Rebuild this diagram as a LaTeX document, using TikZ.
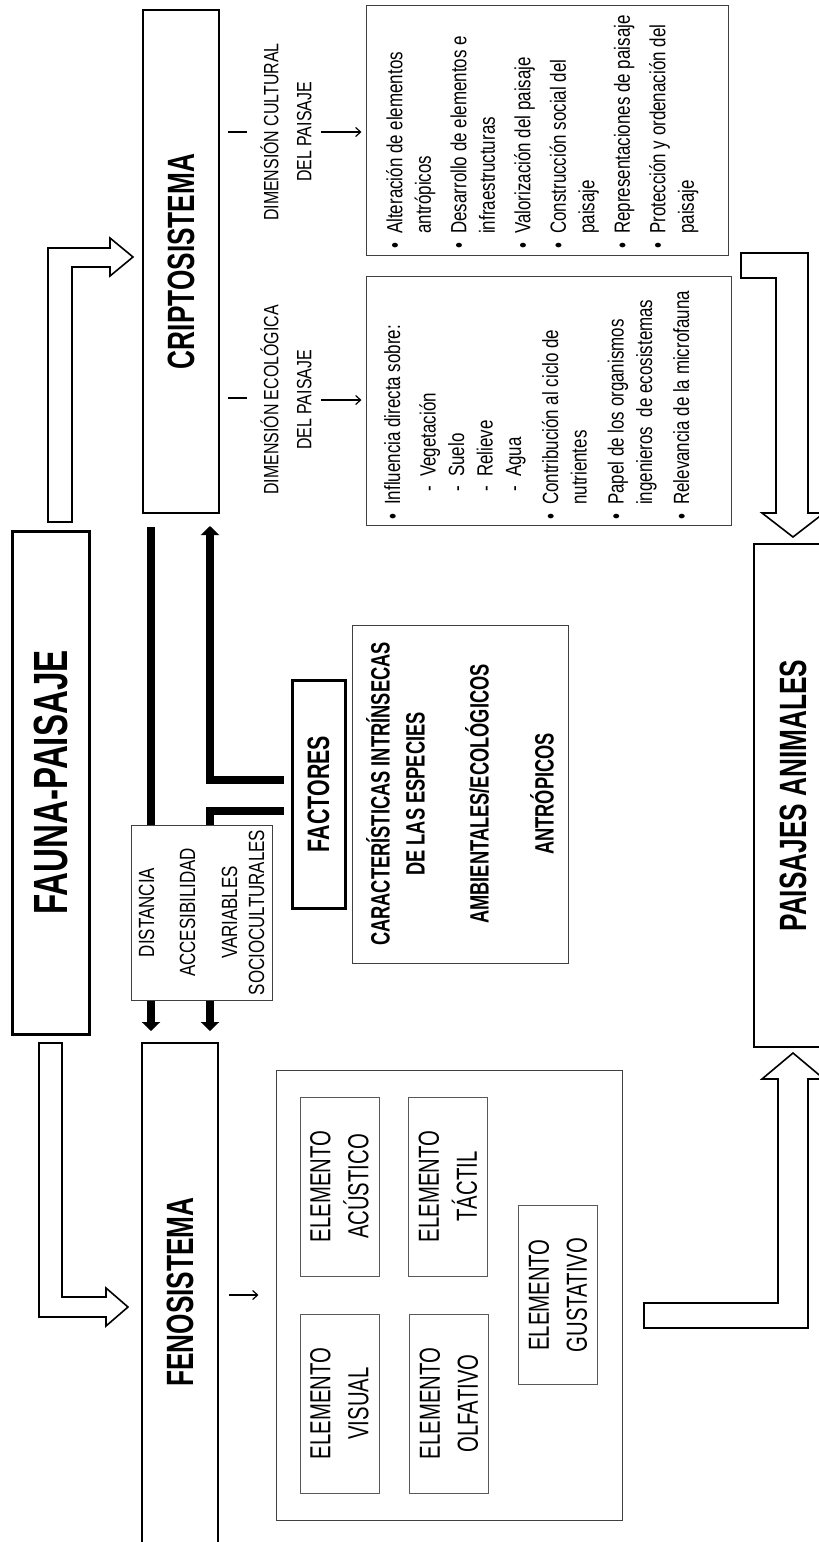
\documentclass[tikz,border=0pt]{standalone}
\usepackage{fontspec}
\setmainfont{Liberation Sans}
\newfontfamily\narrowfont{Liberation Sans}[FakeStretch=0.77]
\newfontfamily\elemfont{Liberation Sans}[FakeStretch=0.70]
\newfontfamily\titlefont{Liberation Sans}[FakeStretch=0.69]
\usetikzlibrary{arrows.meta,positioning}

\begin{document}
\begin{tikzpicture}[x=1pt,y=-1pt,
    every node/.style={rotate=90, inner sep=0pt},
    bigbox/.style={draw, line width=2pt, font=\titlefont\bfseries\fontsize{38}{44}\selectfont},
    thinbox/.style={draw=black!75, line width=1pt},
    listtext/.style={align=left, font=\narrowfont\fontsize{22}{28.5}\selectfont},
    elembox/.style={draw=black!65, line width=1pt, minimum width=179pt, minimum height=79pt,
      align=center, font=\elemfont\fontsize{29}{38}\selectfont},
    thickline/.style={line width=7.5pt, -{Triangle[length=9pt,width=18pt]}},
    thinarrow/.style={line width=1.2pt, -{Straight Barb[length=5pt,width=9pt]}},
    hollow/.style={draw, line width=1.6pt, fill=white, line join=miter}]
  \useasboundingbox (0,0) rectangle (819,1542);
  \clip (0,0) rectangle (819,1542);

  \node[bigbox, line width=3pt, minimum width=503pt, minimum height=77pt,
    font=\titlefont\bfseries\fontsize{48}{52}\selectfont] (fauna) at (50.5,782.5) {FAUNA-PAISAJE};
  \node[bigbox, minimum width=503pt, minimum height=76pt] (cripto) at (181,261.5) {CRIPTOSISTEMA};
  \node[bigbox, minimum width=522pt, minimum height=76pt] (feno) at (180,1304) {};
  \node[font=\titlefont\bfseries\fontsize{38}{44}\selectfont] (fenotitulo) at (180,1292) {FENOSISTEMA};
  \node[bigbox, minimum width=503pt, minimum height=78pt] (paisajes) at (793,795.5) {PAISAJES ANIMALES};

  \draw[hollow] (48,522) -- (72,522) -- (72,267) -- (110,267) -- (110,276) -- (133,257)
    -- (110,238) -- (110,248) -- (48,248) -- cycle;
  \draw[hollow] (39,1043) -- (62,1043) -- (62,1297) -- (106,1297) -- (106,1288) -- (128,1307)
    -- (106,1326) -- (106,1317) -- (39,1317) -- cycle;
  \draw[hollow] (741,253) -- (808,253) -- (808,513) -- (824,513) -- (793,537) -- (762,513)
    -- (776,513) -- (776,278) -- (741,278) -- cycle;
  \draw[hollow] (644,1303) -- (778,1303) -- (778,1079) -- (762,1079) -- (793,1053) -- (824,1079)
    -- (808,1079) -- (808,1328) -- (644,1328) -- cycle;

  \node[draw, line width=3pt, minimum width=228pt, minimum height=53pt,
    font=\titlefont\bfseries\fontsize{31}{36}\selectfont] (factores) at (318.5,794) {FACTORES};
  \node[thinbox, minimum width=338pt, minimum height=216pt, align=center,
    font=\titlefont\bfseries\fontsize{26.5}{35}\selectfont] (caract) at (460,794)
    {CARACTERÍSTICAS INTRÍNSECAS\\DE LAS ESPECIES\\[29pt]AMBIENTALES/ECOLÓGICOS\\[30pt]ANTRÓPICOS};

  \coordinate (l1) at (151,0);
  \coordinate (l2) at (210,0);
  \draw[thickline, shorten <=13pt, shorten >=11pt] (l1 |- cripto.west) -- (l1 |- feno.east);
  \draw[thickline, shorten <=7pt, shorten >=12pt] ([yshift=14pt]factores.north) -| (l2 |- cripto.west);
  \draw[thickline, shorten <=7pt, shorten >=11pt] ([yshift=-17pt]factores.north) -| (l2 |- feno.east);

  \node[thinbox, fill=white, minimum width=175pt, minimum height=141pt, align=center,
    font=\narrowfont\fontsize{22}{27}\selectfont] (distancia) at (201.5,912.5)
    {DISTANCIA\\[14pt]ACCESIBILIDAD\\[15pt]VARIABLES\\SOCIOCULTURALES};

  \node[align=center, font=\narrowfont\fontsize{20.7}{33}\selectfont] (dimcul) at (286,132)
    {DIMENSIÓN CULTURAL\\DEL PAISAJE};
  \node[align=center, font=\narrowfont\fontsize{20.7}{33}\selectfont] (dimeco) at (286,400)
    {DIMENSIÓN ECOLÓGICA\\DEL PAISAJE};
  \draw[line width=1.2pt] (228,132) -- (247,132);
  \draw[line width=1.2pt] (228,398) -- (247,398);

  \node[thinbox, minimum width=250pt, minimum height=362pt] (culbox) at (547,130) {};
  \node[thinbox, minimum width=249pt, minimum height=365pt] (ecobox) at (548.5,400.5) {};
  \draw[thinarrow, shorten <=9pt, shorten >=4pt] (dimcul.south) -- (dimcul.south -| culbox.north);
  \draw[thinarrow, shorten <=9pt, shorten >=4pt] (dimeco.south) -- (dimeco.south -| ecobox.north);

  \node[listtext, anchor=north west] (cullist) at (386,249) {%
    \makebox[15pt][l]{\textbullet}Alteración de elementos\\
    \hspace*{15pt}antrópicos\\[7pt]
    \makebox[15pt][l]{\textbullet}Desarrollo de elementos e\\
    \hspace*{15pt}infraestructuras\\[7pt]
    \makebox[15pt][l]{\textbullet}Valorización del paisaje\\[7pt]
    \makebox[15pt][l]{\textbullet}Construcción social del\\
    \hspace*{15pt}paisaje\\[7pt]
    \makebox[15pt][l]{\textbullet}Representaciones de paisaje\\[7pt]
    \makebox[15pt][l]{\textbullet}Protección y ordenación del\\
    \hspace*{15pt}paisaje};
  \node[listtext, anchor=north west] (ecolist) at (384,520) {%
    \makebox[15pt][l]{\textbullet}Influencia directa sobre:\\[7pt]
    \hspace*{28pt}\makebox[15pt][l]{-}Vegetación\\
    \hspace*{28pt}\makebox[15pt][l]{-}Suelo\\
    \hspace*{28pt}\makebox[15pt][l]{-}Relieve\\
    \hspace*{28pt}\makebox[15pt][l]{-}Agua\\[8.5pt]
    \makebox[15pt][l]{\textbullet}Contribución al ciclo de\\
    \hspace*{15pt}nutrientes\\[8.5pt]
    \makebox[15pt][l]{\textbullet}Papel de los organismos\\
    \hspace*{15pt}ingenieros\ \ de ecosistemas\\[8.5pt]
    \makebox[15pt][l]{\textbullet}Relevancia de la microfauna};

  \node[thinbox, minimum width=450pt, minimum height=346pt] (sentidos) at (449,1295) {};
  \node[elembox] (acustico) at (339.5,1186.5) {ELEMENTO\\ACÚSTICO};
  \node[elembox] (visual) at (339.5,1403.5) {ELEMENTO\\VISUAL};
  \node[elembox] (tactil) at (448,1186.5) {ELEMENTO\\TÁCTIL};
  \node[elembox] (olfativo) at (449,1403.5) {ELEMENTO\\OLFATIVO};
  \node[elembox] (gustativo) at (558,1295) {ELEMENTO\\GUSTATIVO};
  \draw[thinarrow, shorten <=10pt, shorten >=17pt] (feno.south |- sentidos.north) -- (sentidos.north);
\end{tikzpicture}
\end{document}
